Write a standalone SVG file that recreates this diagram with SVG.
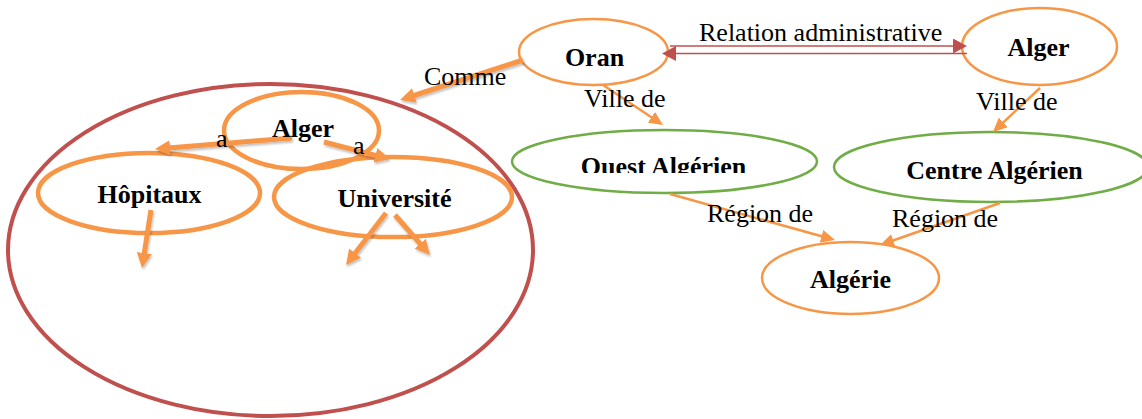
<svg xmlns="http://www.w3.org/2000/svg" width="1142" height="419" viewBox="0 0 1142 419">
  <style>
    .lbl { font-family: "Liberation Serif", "Times New Roman", serif; font-size: 26px; fill: #000; }
    .node { font-family: "Liberation Serif", "Times New Roman", serif; font-size: 26px; font-weight: bold; fill: #000; text-anchor: middle; }
    .orange-thin { fill: #fff; stroke: #f79646; stroke-width: 2.5; }
    .orange-thick { fill: none; stroke: #f79646; stroke-width: 4.5; }
    .green { fill: #fff; stroke: #70ad47; stroke-width: 2.5; }
    .group { fill: none; stroke: #c0504d; stroke-width: 4; }
    .thick { stroke: #f79646; stroke-width: 5; fill: none; marker-end: url(#headThick); }
    .thin { stroke: #f79646; stroke-width: 2.5; fill: none; marker-end: url(#headThin); }
    .admin { stroke: #c0504d; stroke-width: 1.5; fill: none; marker-end: url(#headRed); }
  </style>
  <defs>
    <marker id="headThick" markerUnits="userSpaceOnUse" markerWidth="15" markerHeight="15" refX="2" refY="7.5" orient="auto">
      <path d="M0,0 L15,7.5 L0,15 Z" fill="#f79646"/>
    </marker>
    <marker id="headThin" markerUnits="userSpaceOnUse" markerWidth="14" markerHeight="13" refX="1" refY="6.5" orient="auto">
      <path d="M0,0 L14,6.5 L0,13 Z" fill="#f79646"/>
    </marker>
    <marker id="headRed" markerUnits="userSpaceOnUse" markerWidth="14" markerHeight="15" refX="0" refY="7.5" orient="auto">
      <path d="M0,0 L14,7.5 L0,15 Z" fill="#c0504d"/>
    </marker>
    <filter id="shade" filterUnits="userSpaceOnUse" x="0" y="0" width="1142" height="419">
      <feDropShadow dx="1" dy="2" stdDeviation="1.2" flood-color="#000" flood-opacity="0.25"/>
    </filter>
    <clipPath id="ouestClip">
      <rect x="500" y="120" width="320" height="53"/>
    </clipPath>
  </defs>

  <rect width="1142" height="419" fill="#fff"/>

  <!-- Alger as a city: the grouping circle -->
  <g id="alger-cluster">
    <ellipse class="group" cx="270.5" cy="250" rx="262.5" ry="166"/>
  </g>

  <g id="oran">
    <ellipse class="orange-thin" cx="593.5" cy="52" rx="74.5" ry="33"/>
    <text class="node" x="594.5" y="66">Oran</text>
  </g>

  <g id="alger-top">
    <ellipse class="orange-thin" cx="1039.5" cy="46.5" rx="77.5" ry="38.5"/>
    <text class="node" x="1038.5" y="56">Alger</text>
  </g>

  <g id="ouest">
    <ellipse class="green" cx="664.5" cy="161.5" rx="152.5" ry="31.5"/>
    <text class="node" x="663.5" y="175" clip-path="url(#ouestClip)">Ouest Algérien</text>
  </g>

  <g id="centre">
    <ellipse class="green" cx="991" cy="167" rx="157" ry="35"/>
    <text class="node" x="994.5" y="179">Centre Algérien</text>
  </g>

  <g id="algerie">
    <ellipse class="orange-thin" cx="850.5" cy="278" rx="88.5" ry="36"/>
    <text class="node" x="850.5" y="288">Algérie</text>
  </g>

  <g id="alger-inner">
    <ellipse class="orange-thick" cx="301.5" cy="130.5" rx="77.5" ry="38.5"/>
  </g>

  <g id="hopitaux">
    <ellipse class="orange-thick" cx="149" cy="193" rx="111" ry="40"/>
    <text class="node" x="149.5" y="203">Hôpitaux</text>
  </g>

  <g id="universite">
    <ellipse class="orange-thick" cx="393" cy="197" rx="119" ry="40"/>
    <text class="node" x="394.5" y="207">Université</text>
  </g>

  <!-- connectors -->
  <g id="connectors">
    <line class="admin" x1="670" y1="46" x2="953" y2="46"/>
    <line class="admin" x1="967" y1="53.5" x2="676" y2="53.5"/>

    <g filter="url(#shade)">
      <line class="thick" x1="523" y1="60" x2="412.4" y2="96"/>
      <line class="thick" x1="292" y1="138" x2="168" y2="148"/>
      <line class="thick" x1="324" y1="142" x2="377.4" y2="155.8"/>
      <line class="thick" x1="151" y1="210" x2="144" y2="255.2"/>
      <line class="thick" x1="386" y1="213" x2="353.9" y2="254.7"/>
      <line class="thick" x1="395" y1="215" x2="421.4" y2="245.2"/>
    </g>

    <line class="thin" x1="603" y1="85" x2="652.2" y2="117.8"/>
    <line class="thin" x1="1040" y1="88" x2="1002.5" y2="123.1"/>
    <line class="thin" x1="670" y1="194" x2="822.5" y2="236.5"/>
    <line class="thin" x1="1000" y1="203" x2="892.3" y2="240.7"/>
  </g>

  <!-- connector labels -->
  <g id="labels">
    <text class="lbl" x="699" y="41">Relation administrative</text>
    <text class="lbl" x="424" y="85">Comme</text>
    <text class="lbl" x="584" y="107">Ville de</text>
    <text class="lbl" x="976" y="110">Ville de</text>
    <text class="lbl" x="707" y="222">Région de</text>
    <text class="lbl" x="892" y="227">Région de</text>
    <text class="node" x="303" y="137">Alger</text>
    <text class="lbl" x="216" y="147">a</text>
    <text class="lbl" x="353" y="154">a</text>
  </g>
</svg>
